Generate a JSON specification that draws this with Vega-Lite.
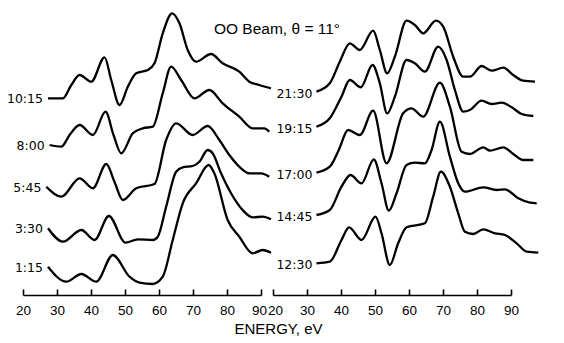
{
"$schema":"https://vega.github.io/schema/vega-lite/v6.json",
"padding":{"left":6,"top":8,"right":5,"bottom":5},
"bounds":"flush",
"background":"white",
"title":{"text":"OO Beam, θ = 11°","orient":"top","anchor":"start","frame":"bounds","font":"Liberation Sans","fontSize":15.5,"fontWeight":"normal","color":"black","dx":207,"dy":40,"baseline":"middle"},
"config":{"view":{"stroke":null},"axis":{"grid":false,"domainColor":"black","domainWidth":1.6,"tickColor":"black","tickWidth":1.6,"labelColor":"black","labelFont":"Liberation Sans","labelFontSize":13.5,"labelFlush":false,"labelOverlap":false}},
"spacing":12,
"data":{"values":[
{"p":"L","s":"10:15","e":27.34,"v":196.7},{"p":"L","s":"10:15","e":31.74,"v":196.7},{"p":"L","s":"10:15","e":34.21,"v":210},{"p":"L","s":"10:15","e":36.65,"v":220},{"p":"L","s":"10:15","e":40.08,"v":213.3},{"p":"L","s":"10:15","e":43.99,"v":237.7},{"p":"L","s":"10:15","e":45.95,"v":215},{"p":"L","s":"10:15","e":48.39,"v":190},{"p":"L","s":"10:15","e":50.83,"v":208.3},{"p":"L","s":"10:15","e":53.29,"v":221.7},{"p":"L","s":"10:15","e":56.7,"v":225},{"p":"L","s":"10:15","e":58.67,"v":231.7},{"p":"L","s":"10:15","e":61.1,"v":261.7},{"p":"L","s":"10:15","e":63.86,"v":281.7},{"p":"L","s":"10:15","e":66.01,"v":271.7},{"p":"L","s":"10:15","e":68.44,"v":245},{"p":"L","s":"10:15","e":70.91,"v":233.3},{"p":"L","s":"10:15","e":75.31,"v":241},{"p":"L","s":"10:15","e":78.72,"v":231.7},{"p":"L","s":"10:15","e":83.62,"v":223.3},{"p":"L","s":"10:15","e":86.56,"v":213.3},{"p":"L","s":"10:15","e":89.5,"v":210},{"p":"L","s":"10:15","e":92.93,"v":206.7},
{"p":"L","s":"8:00","e":27.84,"v":150},{"p":"L","s":"8:00","e":31.27,"v":148.3},{"p":"L","s":"8:00","e":33.71,"v":160},{"p":"L","s":"8:00","e":36.65,"v":170},{"p":"L","s":"8:00","e":40.55,"v":160},{"p":"L","s":"8:00","e":44.28,"v":183.3},{"p":"L","s":"8:00","e":46.63,"v":160},{"p":"L","s":"8:00","e":48.89,"v":141.7},{"p":"L","s":"8:00","e":52.3,"v":161.7},{"p":"L","s":"8:00","e":55.23,"v":166.7},{"p":"L","s":"8:00","e":58.17,"v":168.3},{"p":"L","s":"8:00","e":61.1,"v":201.7},{"p":"L","s":"8:00","e":63.57,"v":228.3},{"p":"L","s":"8:00","e":66.51,"v":215},{"p":"L","s":"8:00","e":70.41,"v":196.7},{"p":"L","s":"8:00","e":74.82,"v":205},{"p":"L","s":"8:00","e":78.72,"v":191.7},{"p":"L","s":"8:00","e":83.62,"v":178.3},{"p":"L","s":"8:00","e":87.53,"v":166.7},{"p":"L","s":"8:00","e":90.96,"v":166.7},{"p":"L","s":"8:00","e":92.43,"v":163.3},
{"p":"L","s":"5:45","e":26.87,"v":108.3},{"p":"L","s":"5:45","e":31.27,"v":98.3},{"p":"L","s":"5:45","e":36.65,"v":116.7},{"p":"L","s":"5:45","e":40.55,"v":106.7},{"p":"L","s":"5:45","e":44.49,"v":131},{"p":"L","s":"5:45","e":46.92,"v":113},{"p":"L","s":"5:45","e":49.36,"v":95},{"p":"L","s":"5:45","e":53.29,"v":106.7},{"p":"L","s":"5:45","e":58.67,"v":111},{"p":"L","s":"5:45","e":62.1,"v":155},{"p":"L","s":"5:45","e":65.04,"v":171.7},{"p":"L","s":"5:45","e":69.91,"v":160},{"p":"L","s":"5:45","e":74.32,"v":169},{"p":"L","s":"5:45","e":77.75,"v":155},{"p":"L","s":"5:45","e":80.69,"v":140},{"p":"L","s":"5:45","e":83.62,"v":128.3},{"p":"L","s":"5:45","e":86.56,"v":121.7},{"p":"L","s":"5:45","e":90,"v":121.7},{"p":"L","s":"5:45","e":92.43,"v":118.3},
{"p":"L","s":"3:30","e":27.34,"v":66.7},{"p":"L","s":"3:30","e":31.74,"v":53.3},{"p":"L","s":"3:30","e":37.15,"v":65},{"p":"L","s":"3:30","e":41.05,"v":55},{"p":"L","s":"3:30","e":45.25,"v":79},{"p":"L","s":"3:30","e":50.15,"v":52.3},{"p":"L","s":"3:30","e":53.76,"v":55.7},{"p":"L","s":"3:30","e":58.17,"v":55},{"p":"L","s":"3:30","e":59.64,"v":58.3},{"p":"L","s":"3:30","e":62.1,"v":88.3},{"p":"L","s":"3:30","e":65.04,"v":123.3},{"p":"L","s":"3:30","e":66.98,"v":127.7},{"p":"L","s":"3:30","e":69.91,"v":129},{"p":"L","s":"3:30","e":71.88,"v":133.3},{"p":"L","s":"3:30","e":74.32,"v":145},{"p":"L","s":"3:30","e":75.78,"v":141.7},{"p":"L","s":"3:30","e":78.25,"v":121.7},{"p":"L","s":"3:30","e":81.19,"v":101.7},{"p":"L","s":"3:30","e":84.59,"v":85},{"p":"L","s":"3:30","e":87.53,"v":77.7},{"p":"L","s":"3:30","e":90.46,"v":78.3},{"p":"L","s":"3:30","e":92.93,"v":75.7},
{"p":"L","s":"1:15","e":27.34,"v":28.3},{"p":"L","s":"1:15","e":32.74,"v":13.3},{"p":"L","s":"1:15","e":37.15,"v":21},{"p":"L","s":"1:15","e":41.55,"v":13.3},{"p":"L","s":"1:15","e":46.42,"v":40},{"p":"L","s":"1:15","e":51.33,"v":18.3},{"p":"L","s":"1:15","e":54.26,"v":12.3},{"p":"L","s":"1:15","e":58.17,"v":11},{"p":"L","s":"1:15","e":61.1,"v":18.3},{"p":"L","s":"1:15","e":64.04,"v":55},{"p":"L","s":"1:15","e":66.98,"v":91.7},{"p":"L","s":"1:15","e":70.91,"v":111.7},{"p":"L","s":"1:15","e":74.61,"v":130},{"p":"L","s":"1:15","e":76.28,"v":121.7},{"p":"L","s":"1:15","e":80.19,"v":75},{"p":"L","s":"1:15","e":83.62,"v":58.3},{"p":"L","s":"1:15","e":87.53,"v":41.7},{"p":"L","s":"1:15","e":90.46,"v":45},{"p":"L","s":"1:15","e":92.93,"v":42.3},
{"p":"R","s":"21:30","e":32.78,"v":203.3},{"p":"R","s":"21:30","e":36.7,"v":211.7},{"p":"R","s":"21:30","e":39.64,"v":233.3},{"p":"R","s":"21:30","e":42.59,"v":251.7},{"p":"R","s":"21:30","e":45.53,"v":245},{"p":"R","s":"21:30","e":49.45,"v":264.3},{"p":"R","s":"21:30","e":51.42,"v":245},{"p":"R","s":"21:30","e":53.57,"v":221.7},{"p":"R","s":"21:30","e":55.84,"v":238.3},{"p":"R","s":"21:30","e":59.28,"v":274.3},{"p":"R","s":"21:30","e":61.73,"v":270},{"p":"R","s":"21:30","e":64.17,"v":261.7},{"p":"R","s":"21:30","e":67.91,"v":274.3},{"p":"R","s":"21:30","e":70.06,"v":268.3},{"p":"R","s":"21:30","e":73,"v":238.3},{"p":"R","s":"21:30","e":75.95,"v":218.3},{"p":"R","s":"21:30","e":77.92,"v":218.3},{"p":"R","s":"21:30","e":81.37,"v":229},{"p":"R","s":"21:30","e":84.31,"v":224.3},{"p":"R","s":"21:30","e":87.73,"v":227.3},{"p":"R","s":"21:30","e":90.67,"v":220},{"p":"R","s":"21:30","e":93.62,"v":214.3},{"p":"R","s":"21:30","e":97.06,"v":213.3},
{"p":"R","s":"19:15","e":32.78,"v":168.3},{"p":"R","s":"19:15","e":36.7,"v":176.7},{"p":"R","s":"19:15","e":40.14,"v":198.3},{"p":"R","s":"19:15","e":42.59,"v":215},{"p":"R","s":"19:15","e":45.82,"v":207.7},{"p":"R","s":"19:15","e":49.27,"v":230},{"p":"R","s":"19:15","e":51.42,"v":211.7},{"p":"R","s":"19:15","e":53.57,"v":181.7},{"p":"R","s":"19:15","e":55.84,"v":198.3},{"p":"R","s":"19:15","e":59.28,"v":235},{"p":"R","s":"19:15","e":61.73,"v":231.7},{"p":"R","s":"19:15","e":64.67,"v":223.3},{"p":"R","s":"19:15","e":68.59,"v":248.3},{"p":"R","s":"19:15","e":71.06,"v":235},{"p":"R","s":"19:15","e":73.5,"v":205},{"p":"R","s":"19:15","e":75.95,"v":183.3},{"p":"R","s":"19:15","e":77.92,"v":185},{"p":"R","s":"19:15","e":81.37,"v":194.3},{"p":"R","s":"19:15","e":84.31,"v":191},{"p":"R","s":"19:15","e":87.26,"v":192.3},{"p":"R","s":"19:15","e":90.2,"v":187.7},{"p":"R","s":"19:15","e":93.14,"v":181},{"p":"R","s":"19:15","e":96.56,"v":179},
{"p":"R","s":"17:00","e":32.78,"v":122.3},{"p":"R","s":"17:00","e":36.7,"v":128.3},{"p":"R","s":"17:00","e":39.35,"v":145},{"p":"R","s":"17:00","e":42.08,"v":165},{"p":"R","s":"17:00","e":45.53,"v":160},{"p":"R","s":"17:00","e":49.45,"v":184.3},{"p":"R","s":"17:00","e":53.39,"v":131.7},{"p":"R","s":"17:00","e":58.28,"v":181.7},{"p":"R","s":"17:00","e":60.75,"v":186.7},{"p":"R","s":"17:00","e":64.17,"v":178.3},{"p":"R","s":"17:00","e":69.09,"v":212.3},{"p":"R","s":"17:00","e":72.03,"v":188.3},{"p":"R","s":"17:00","e":75.48,"v":143.3},{"p":"R","s":"17:00","e":77.92,"v":141},{"p":"R","s":"17:00","e":81.84,"v":147.7},{"p":"R","s":"17:00","e":83.81,"v":144.3},{"p":"R","s":"17:00","e":87.73,"v":147.7},{"p":"R","s":"17:00","e":90.67,"v":141},{"p":"R","s":"17:00","e":93.62,"v":135},{"p":"R","s":"17:00","e":96.56,"v":135},
{"p":"R","s":"14:45","e":32.78,"v":80},{"p":"R","s":"14:45","e":36.7,"v":85},{"p":"R","s":"14:45","e":40.14,"v":108.3},{"p":"R","s":"14:45","e":42.79,"v":120},{"p":"R","s":"14:45","e":46.03,"v":111.7},{"p":"R","s":"14:45","e":49.65,"v":135.7},{"p":"R","s":"14:45","e":51.92,"v":111.7},{"p":"R","s":"14:45","e":54.07,"v":84.3},{"p":"R","s":"14:45","e":56.34,"v":101.7},{"p":"R","s":"14:45","e":59.28,"v":130},{"p":"R","s":"14:45","e":61.73,"v":132.3},{"p":"R","s":"14:45","e":64.67,"v":131.7},{"p":"R","s":"14:45","e":66.64,"v":145},{"p":"R","s":"14:45","e":69.09,"v":173.3},{"p":"R","s":"14:45","e":72.03,"v":138.3},{"p":"R","s":"14:45","e":74.48,"v":111.7},{"p":"R","s":"14:45","e":76.45,"v":103.3},{"p":"R","s":"14:45","e":81.84,"v":107.7},{"p":"R","s":"14:45","e":85.78,"v":105},{"p":"R","s":"14:45","e":88.23,"v":105.7},{"p":"R","s":"14:45","e":92.14,"v":96.7},{"p":"R","s":"14:45","e":95.59,"v":92.3},{"p":"R","s":"14:45","e":97.56,"v":91.7},
{"p":"R","s":"12:30","e":32.78,"v":31.7},{"p":"R","s":"12:30","e":36.7,"v":33.3},{"p":"R","s":"12:30","e":40.14,"v":55},{"p":"R","s":"12:30","e":42.38,"v":67.7},{"p":"R","s":"12:30","e":46.03,"v":55},{"p":"R","s":"12:30","e":50.15,"v":78.3},{"p":"R","s":"12:30","e":51.92,"v":61.7},{"p":"R","s":"12:30","e":54.36,"v":30},{"p":"R","s":"12:30","e":56.81,"v":51.7},{"p":"R","s":"12:30","e":59.28,"v":67.7},{"p":"R","s":"12:30","e":64.67,"v":71.7},{"p":"R","s":"12:30","e":67.11,"v":98.3},{"p":"R","s":"12:30","e":69.38,"v":123.3},{"p":"R","s":"12:30","e":72.03,"v":108.3},{"p":"R","s":"12:30","e":74.48,"v":81.7},{"p":"R","s":"12:30","e":76.45,"v":63.3},{"p":"R","s":"12:30","e":78.89,"v":61},{"p":"R","s":"12:30","e":81.84,"v":65.7},{"p":"R","s":"12:30","e":85.28,"v":61.7},{"p":"R","s":"12:30","e":88.23,"v":60},{"p":"R","s":"12:30","e":91.67,"v":51.7},{"p":"R","s":"12:30","e":94.62,"v":43.3},{"p":"R","s":"12:30","e":98.03,"v":42.3}
]},
"hconcat":[
{"width":238,"height":283,
 "transform":[{"filter":"datum.p==='L'"}],
 "encoding":{"x":{"field":"e","type":"quantitative","scale":{"domain":[20,90],"nice":false,"zero":false},"axis":{"values":[20,30,40,50,60,70,80,90],"title":"ENERGY, eV","titleFont":"Liberation Sans","titleFontSize":15,"titleFontWeight":"normal","titleColor":"black","titleX":255,"titleY":33,"titleAlign":"center","titleBaseline":"middle","tickSize":-6,"labelPadding":14,"labelOffset":{"condition":{"test":"datum.value === 90","value":-2},"value":0}}},
   "y":{"field":"v","type":"quantitative","scale":{"domain":[0,283],"nice":false,"zero":false},"axis":null}},
 "layer":[
  {"mark":{"type":"line","interpolate":"monotone","color":"black","strokeWidth":2.3},
   "encoding":{"detail":{"field":"s"}}},
  {"transform":[{"window":[{"op":"row_number","as":"r"}],"sort":[{"field":"e"}],"groupby":["s"]},{"filter":"datum.r===1"}],
   "mark":{"type":"text","align":"right","baseline":"middle","dx":-5,"dy":1,"font":"DejaVu Sans","fontSize":12.5,"color":"black"},
   "encoding":{"text":{"field":"s"}}}
 ]},
{"width":238,"height":283,
 "transform":[{"filter":"datum.p==='R'"}],
 "encoding":{"x":{"field":"e","type":"quantitative","scale":{"domain":[20,90],"nice":false,"zero":false},"axis":{"values":[20,30,40,50,60,70,80,90],"title":null,"tickSize":-6,"labelPadding":14,"labelOffset":{"condition":{"test":"datum.value === 20","value":2},"value":0}}},
   "y":{"field":"v","type":"quantitative","scale":{"domain":[0,283],"nice":false,"zero":false},"axis":null}},
 "layer":[
  {"mark":{"type":"line","interpolate":"monotone","color":"black","strokeWidth":2.3},
   "encoding":{"detail":{"field":"s"}}},
  {"transform":[{"window":[{"op":"row_number","as":"r"}],"sort":[{"field":"e"}],"groupby":["s"]},{"filter":"datum.r===1"}],
   "mark":{"type":"text","align":"right","baseline":"middle","dx":-4,"dy":2,"font":"DejaVu Sans","fontSize":12.5,"color":"black"},
   "encoding":{"text":{"field":"s"}}}
 ]}
]
}
